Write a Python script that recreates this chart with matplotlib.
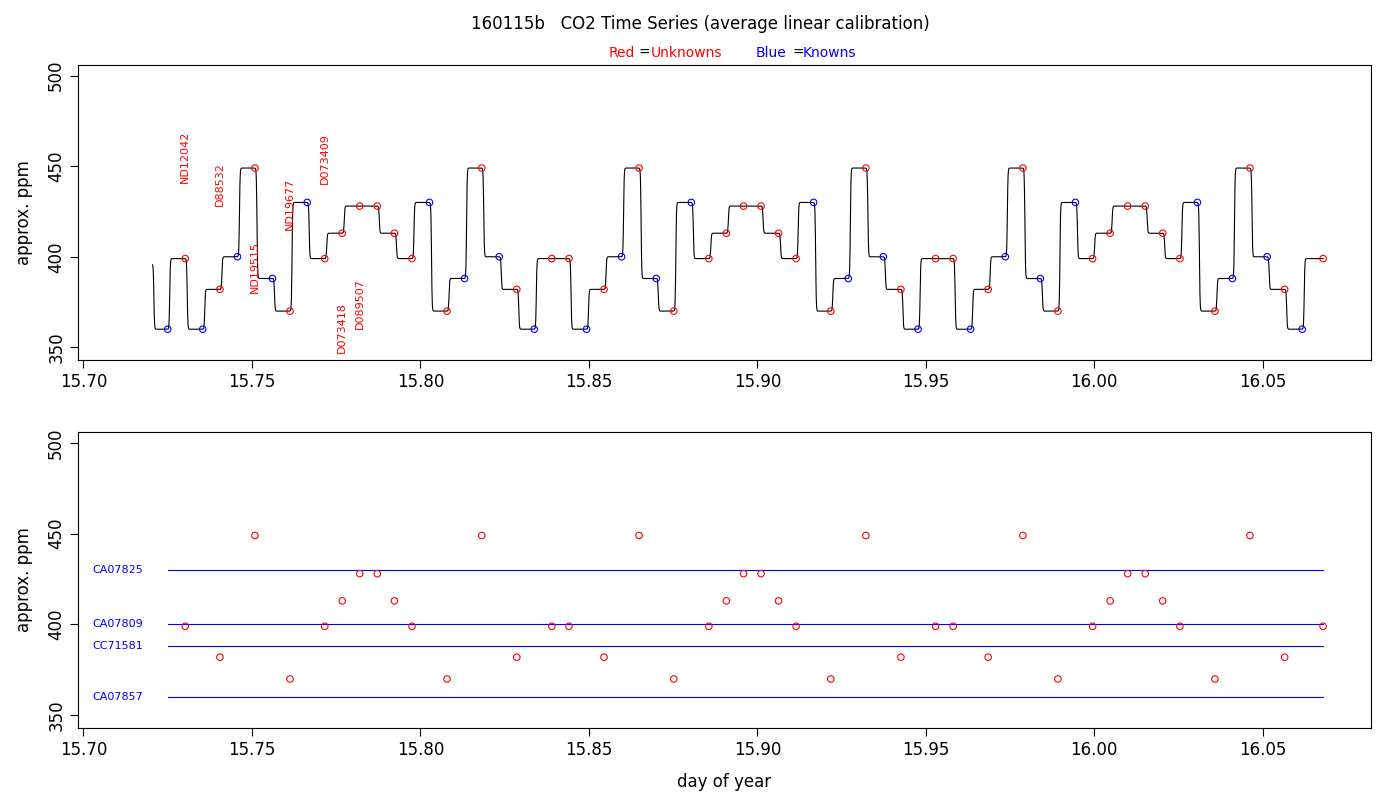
import numpy as np
import matplotlib.pyplot as plt

# sample times (day of year), values and type (U = unknown, K = known)
times = [15.7250, 15.7302, 15.7354, 15.7405, 15.7457, 15.7509, 15.7561, 15.7613, 15.7664, 15.7716,
         15.7768, 15.7820, 15.7872, 15.7923, 15.7975, 15.8027, 15.8079, 15.8131, 15.8182, 15.8234,
         15.8286, 15.8338, 15.8390, 15.8441, 15.8493, 15.8545, 15.8597, 15.8649, 15.8700, 15.8752,
         15.8804, 15.8856, 15.8908, 15.8959, 15.9011, 15.9063, 15.9115, 15.9167, 15.9218, 15.9270,
         15.9322, 15.9374, 15.9426, 15.9477, 15.9529, 15.9581, 15.9633, 15.9685, 15.9736, 15.9788,
         15.9840, 15.9892, 15.9944, 15.9995, 16.0047, 16.0099, 16.0151, 16.0203, 16.0254, 16.0306,
         16.0358, 16.0410, 16.0462, 16.0513, 16.0565, 16.0617, 16.0679]
values = [360, 399, 360, 382, 400, 449, 388, 370, 430, 399,
          413, 428, 428, 413, 399, 430, 370, 388, 449, 400,
          382, 360, 399, 399, 360, 382, 400, 449, 388, 370,
          430, 399, 413, 428, 428, 413, 399, 430, 370, 388,
          449, 400, 382, 360, 399, 399, 360, 382, 400, 449,
          388, 370, 430, 399, 413, 428, 428, 413, 399, 430,
          370, 388, 449, 400, 382, 360, 399]
kinds = "KUKUKUKUKUUUUUUKUKUKUKUUKUKUKUKUUUUUUKUKUKUKUUKUKUKUKUUUUUUKUKUKUKU"

start_time, start_value = 15.7205, 396

# sample names on top panel
tag_names = ["ND12042", "D88532", "ND19515", "ND19677", "D073409", "D073418", "D089507"]
tag_x = [15.7302, 15.7405, 15.7509, 15.7613, 15.7716, 15.7768, 15.7820]
tag_y = [441, 428, 380, 415, 440, 347, 360]

# standards (knowns)
std_names = ["CA07825", "CA07809", "CC71581", "CA07857"]
std_values = [430, 400, 388, 360]

t = np.array(times)
v = np.array(values)
red = np.array([k == "U" for k in kinds])

# continuous trace: smooth steps between successive sample plateaus
tt = np.linspace(start_time, t[-1], 6000)
trace = np.full_like(tt, float(start_value))
prev = start_value
edges = np.concatenate([[start_time + 0.0004], t[:-1] + 0.0006])
for e, val in zip(edges, v):
    trace += (val - prev) * 0.5 * (1 + np.tanh((tt - e) / 0.00018))
    prev = val

fig = plt.figure(figsize=(14, 8), dpi=100)
ax1 = fig.add_axes([0.056, 0.55, 0.923, 0.369])
ax2 = fig.add_axes([0.056, 0.09, 0.923, 0.37])

for ax in (ax1, ax2):
    ax.set_xlim(15.6985, 16.082)
    ax.set_ylim(343, 506)
    ax.set_xticks([15.70, 15.75, 15.80, 15.85, 15.90, 15.95, 16.00, 16.05])
    ax.set_xticklabels(["%.2f" % x for x in ax.get_xticks()])
    ax.set_yticks([350, 400, 450, 500])
    ax.set_yticklabels(["350", "400", "450", "500"], rotation=90, va="center")
    ax.tick_params(labelsize=12, length=6)
    ax.set_ylabel("approx. ppm", fontsize=12, labelpad=10)
    for s in ax.spines.values():
        s.set_linewidth(0.8)

ax1.plot(tt, trace, color="black", lw=0.8)
ax1.scatter(t[red], v[red], s=22, facecolors="none", edgecolors="red", lw=0.8, zorder=3)
ax1.scatter(t[~red], v[~red], s=22, facecolors="none", edgecolors="blue", lw=0.8, zorder=3)
for name, x, y in zip(tag_names, tag_x, tag_y):
    ax1.text(x, y, name, color="red", rotation=90, fontsize=8, ha="center", va="bottom")

for name, val in zip(std_names, std_values):
    ax2.plot([times[0], times[-1]], [val, val], color="blue", lw=0.8)
    ax2.text(15.7025, val, name, color="blue", fontsize=8, va="center")
ax2.scatter(t[red], v[red], s=22, facecolors="none", edgecolors="red", lw=0.8, zorder=3)
ax2.set_xlabel("day of year", fontsize=12, labelpad=10)

fig.text(0.5, 0.97, "160115b   CO2 Time Series (average linear calibration)",
         ha="center", va="center", fontsize=12)
fig.text(0.435, 0.934, "Red", color="red", fontsize=10, ha="left", va="center")
fig.text(0.456, 0.934, "=", color="black", fontsize=10, ha="left", va="center")
fig.text(0.465, 0.934, "Unknowns", color="red", fontsize=10, ha="left", va="center")
fig.text(0.540, 0.934, "Blue", color="blue", fontsize=10, ha="left", va="center")
fig.text(0.566, 0.934, "=", color="black", fontsize=10, ha="left", va="center")
fig.text(0.573, 0.934, "Knowns", color="blue", fontsize=10, ha="left", va="center")

fig.savefig("out.png", dpi=100)
